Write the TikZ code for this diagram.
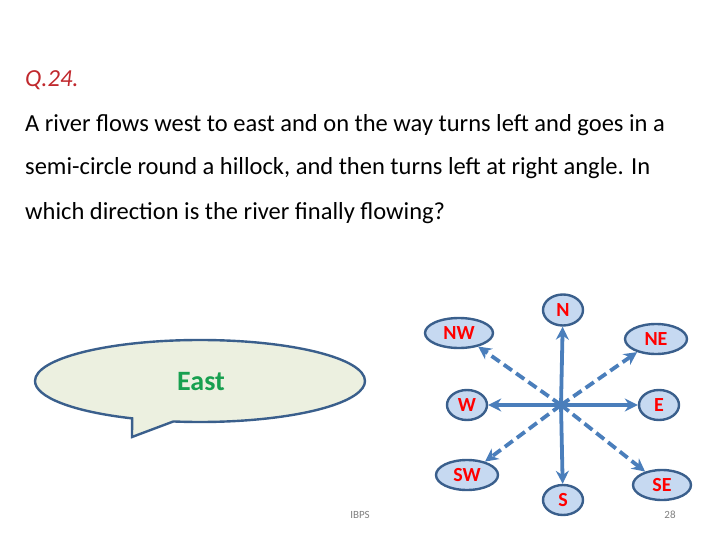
\documentclass[tikz,border=0pt]{standalone}
\usepackage{fontspec}
\setmainfont{Carlito}
\usetikzlibrary{shapes.geometric,shapes.callouts,arrows.meta}
\definecolor{arr}{HTML}{4A7EBB}
\definecolor{efill}{HTML}{C6D9F1}
\definecolor{estroke}{HTML}{3A5F8C}
\definecolor{cfill}{HTML}{ECF0E0}
\definecolor{qred}{HTML}{C0282D}
\tikzset{
 dir/.style={ellipse, draw=estroke, line width=2.4pt, fill=efill, text=red, font=\bfseries\fontsize{20}{20}\selectfont, inner sep=0pt},
 solidarrow/.style={draw=arr, line width=3.8pt, -{Stealth[length=13pt,width=13pt]}},
 dasharrow/.style={solidarrow, dash pattern=on 10pt off 5pt},
 qline/.style={anchor=base west, font=\fontsize{24.5}{24.5}\selectfont, inner sep=0pt}
}
\begin{document}
\begin{tikzpicture}[x=1pt,y=-1pt]
\useasboundingbox (0,0) rectangle (720,540);
\node[qline, text=qred, font=\itshape\fontsize{24.5}{24.5}\selectfont] (q) at (25,87) {Q.24.};
\node[qline] (l1) at (25,132) {A river flows west to east and on the way turns left and goes in a};
\node[qline] (l2) at (25,175) {semi-circle round a hillock, and then turns left at right angle. In};
\node[qline] (l3) at (25,219) {which direction is the river finally flowing?};

\node[ellipse callout, draw=estroke, line width=2.4pt, fill=cfill, minimum width=330, minimum height=82, callout absolute pointer={(132,437)}] (call) at (200,381) {};
\node[text={rgb,255:red,24;green,160;blue,80}, font=\bfseries\fontsize{28}{28}\selectfont] (east) at (201,382) {East};

\coordinate (c) at (561,405);
\node[dir, minimum width=40, minimum height=31] (N) at (563,310) {N};
\node[dir, minimum width=68, minimum height=30] (NW) at (459,333) {NW};
\node[dir, minimum width=62, minimum height=30] (NE) at (656,339) {NE};
\node[dir, minimum width=40, minimum height=30] (W) at (467,405) {W};
\node[dir, minimum width=40, minimum height=30] (E) at (659,405) {E};
\node[dir, minimum width=62, minimum height=30] (SW) at (467,475) {SW};
\node[dir, minimum width=40, minimum height=30] (S) at (563,500) {S};
\node[dir, minimum width=58, minimum height=30] (SE) at (662,485) {SE};

\draw[solidarrow] (c) -- (N);
\draw[solidarrow] (c) -- (S);
\draw[solidarrow] (c) -- (W);
\draw[solidarrow] (c) -- (E);
\draw[dasharrow] (c) -- (NW);
\draw[dasharrow] (c) -- (NE);
\draw[dasharrow] (c) -- (SW);
\draw[dasharrow] (c) -- (SE);

\node[text=gray, font=\fontsize{11}{11}\selectfont] (ibps) at (360,515) {IBPS};
\node[text=gray, font=\fontsize{11}{11}\selectfont] (pg) at (670,515) {28};
\end{tikzpicture}
\end{document}
